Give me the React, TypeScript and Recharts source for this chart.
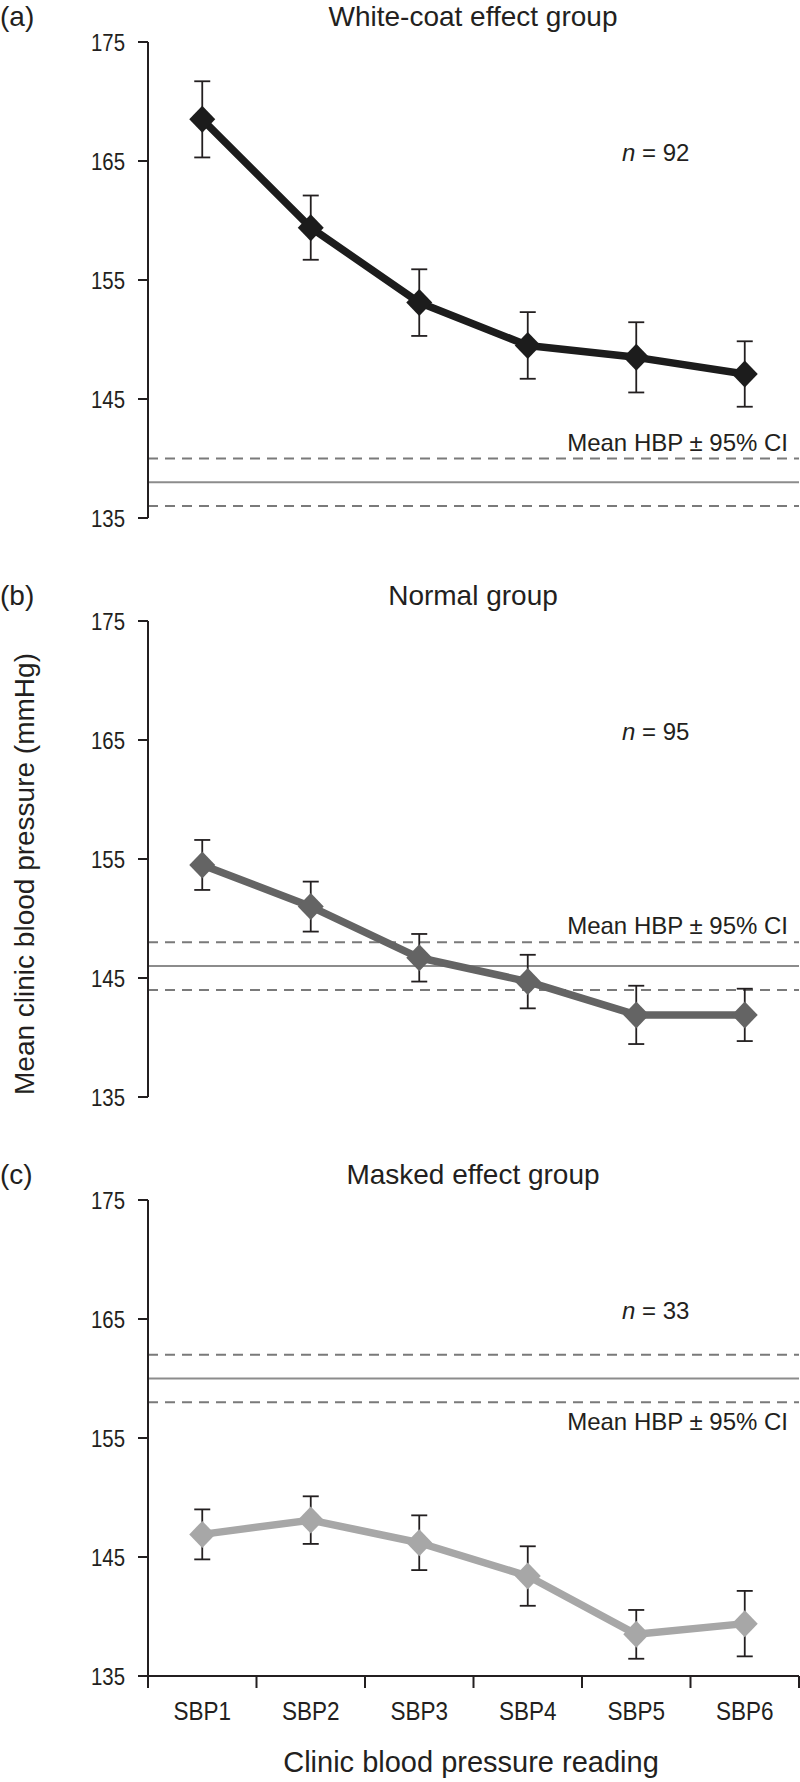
import React from 'react'
import { LineChart, Line, XAxis, YAxis, ErrorBar, ReferenceLine } from 'recharts'

const READINGS = ['SBP1', 'SBP2', 'SBP3', 'SBP4', 'SBP5', 'SBP6']
const Y_TICKS = [135, 145, 155, 165, 175]

// white-coat effect group (n = 92)
const WHITE_COAT_MEAN = [168.5, 159.4, 153.1, 149.5, 148.5, 147.1]
const WHITE_COAT_CI = [3.2, 2.7, 2.8, 2.8, 2.95, 2.75]
const WHITE_COAT_HBP = 138
const WHITE_COAT_HBP_CI = 2

// normal group (n = 95)
const NORMAL_MEAN = [154.5, 151.0, 146.7, 144.7, 141.9, 141.9]
const NORMAL_CI = [2.1, 2.1, 2.0, 2.25, 2.45, 2.2]
const NORMAL_HBP = 146
const NORMAL_HBP_CI = 2

// masked effect group (n = 33)
const MASKED_MEAN = [146.9, 148.1, 146.2, 143.4, 138.5, 139.4]
const MASKED_CI = [2.1, 2.0, 2.3, 2.5, 2.05, 2.75]
const MASKED_HBP = 160
const MASKED_HBP_CI = 2

const FONT = '"Liberation Sans", Arial, sans-serif'
const INK = '#231f20'
const PLOT_TOP = 42
const PLOT_H = 476
const AXIS_X = 148

// category boundaries and centres on a numeric x scale
const X_TICKS = [0.5, ...READINGS.flatMap((_, i) => [i + 1, i + 1.5])]

function YTick({ x, y, payload }: any) {
    return (
        <text
            transform={`translate(${x},${y}) scale(0.85,1)`}
            textAnchor="end"
            dy="0.36em"
            fontSize={24}
            fontFamily={FONT}
            fill={INK}
        >
            {payload.value}
        </text>
    )
}

function XTick({ x, y, payload }: any) {
    const v = payload.value
    if (Number.isInteger(v)) {
        return (
            <text
                transform={`translate(${x},${y + 44}) scale(0.9,1)`}
                textAnchor="middle"
                fontSize={25}
                fontFamily={FONT}
                fill={INK}
            >
                {READINGS[v - 1]}
            </text>
        )
    }
    return <line x1={x} x2={x} y1={y} y2={y + 12} stroke={INK} strokeWidth={2} />
}

function Diamond({ cx, cy, fill }: any) {
    if (cx == null || cy == null) return null
    const w = 13
    const h = 13.5
    return (
        <polygon
            points={`${cx},${cy - h} ${cx + w},${cy} ${cx},${cy + h} ${cx - w},${cy}`}
            fill={fill}
        />
    )
}

function HbpLabel({ viewBox, below }: any) {
    const { x, y, width } = viewBox
    return (
        <text
            x={x + width - 11}
            y={below ? y + 28 : y - 8}
            textAnchor="end"
            fontSize={24}
            fontFamily={FONT}
            fill={INK}
        >
            Mean HBP ± 95% CI
        </text>
    )
}

type PanelProps = {
    top: number
    means: number[]
    cis: number[]
    hbp: number
    hbpCi: number
    color: string
    showX?: boolean
    labelBelow?: boolean
}

function Panel({ top, means, cis, hbp, hbpCi, color, showX, labelBelow }: PanelProps) {
    const rows = READINGS.map((name, i) => ({ x: i + 1, name, mean: means[i], ci: cis[i] }))
    const xHeight = 106
    const height = showX ? PLOT_TOP + PLOT_H + xHeight : PLOT_TOP + PLOT_H + 14

    return (
        <div style={{ position: 'absolute', left: 0, top: top - PLOT_TOP }}>
            <LineChart
                width={800}
                height={height}
                data={rows}
                margin={{ top: PLOT_TOP, right: 1, left: 0, bottom: showX ? 0 : 14 }}
            >
                <XAxis
                    type="number"
                    dataKey="x"
                    domain={[0.5, 6.5]}
                    ticks={X_TICKS}
                    interval={0}
                    hide={!showX}
                    height={xHeight}
                    axisLine={{ stroke: INK, strokeWidth: 2 }}
                    tickLine={false}
                    tickSize={0}
                    tickMargin={0}
                    tick={<XTick />}
                />
                <YAxis
                    type="number"
                    domain={[135, 175]}
                    ticks={Y_TICKS}
                    interval={0}
                    width={AXIS_X}
                    axisLine={{ stroke: INK, strokeWidth: 2 }}
                    tickLine={{ stroke: INK, strokeWidth: 2 }}
                    tickSize={10}
                    tickMargin={13}
                    tick={<YTick />}
                />
                <ReferenceLine y={hbp} stroke="#8c8c8c" strokeWidth={2} />
                <ReferenceLine
                    y={hbp + hbpCi}
                    stroke="#7a7a7a"
                    strokeWidth={2}
                    strokeDasharray="10 7"
                    label={labelBelow ? undefined : (p: any) => <HbpLabel {...p} />}
                />
                <ReferenceLine
                    y={hbp - hbpCi}
                    stroke="#7a7a7a"
                    strokeWidth={2}
                    strokeDasharray="10 7"
                    label={labelBelow ? (p: any) => <HbpLabel {...p} below /> : undefined}
                />
                <Line
                    dataKey="mean"
                    stroke={color}
                    strokeWidth={7.5}
                    strokeLinejoin="round"
                    fill={color}
                    dot={(p: any) => <Diamond key={p.index} {...p} fill={color} />}
                    activeDot={false}
                    isAnimationActive={false}
                >
                    <ErrorBar dataKey="ci" direction="y" width={8} stroke={INK} strokeWidth={1.8} />
                </Line>
            </LineChart>
        </div>
    )
}

const PANEL_TOPS = [42, 621, 1200]

function NLabel({ top, n }: { top: number; n: number }) {
    return (
        <text x={622} y={top + 119} fontSize={24} fontFamily={FONT} fill={INK}>
            <tspan fontStyle="italic">n</tspan> = {n}
        </text>
    )
}

export default function App() {
    return (
        <div style={{ position: 'relative', width: 800, height: 1782, background: '#fff', overflow: 'hidden' }}>
            <style>{'body{margin:0}'}</style>
            <Panel top={PANEL_TOPS[0]} means={WHITE_COAT_MEAN} cis={WHITE_COAT_CI} hbp={WHITE_COAT_HBP} hbpCi={WHITE_COAT_HBP_CI} color="#1c1c1c" />
            <Panel top={PANEL_TOPS[1]} means={NORMAL_MEAN} cis={NORMAL_CI} hbp={NORMAL_HBP} hbpCi={NORMAL_HBP_CI} color="#646464" />
            <Panel top={PANEL_TOPS[2]} means={MASKED_MEAN} cis={MASKED_CI} hbp={MASKED_HBP} hbpCi={MASKED_HBP_CI} color="#a7a7a7" showX labelBelow />

            <svg width={800} height={1782} style={{ position: 'absolute', left: 0, top: 0, pointerEvents: 'none' }}>
                {[['(a)', 'White-coat effect group'], ['(b)', 'Normal group'], ['(c)', 'Masked effect group']].map(([tag, title], i) => (
                    <g key={tag}>
                        <text x={0} y={PANEL_TOPS[i] - 16} fontSize={28} fontFamily={FONT} fill={INK}>{tag}</text>
                        <text x={473} y={PANEL_TOPS[i] - 16} textAnchor="middle" fontSize={28} fontFamily={FONT} fill={INK}>{title}</text>
                    </g>
                ))}
                <NLabel top={PANEL_TOPS[0]} n={92} />
                <NLabel top={PANEL_TOPS[1]} n={95} />
                <NLabel top={PANEL_TOPS[2]} n={33} />
                <text
                    transform="translate(34,874) rotate(-90)"
                    textAnchor="middle"
                    fontSize={28}
                    fontFamily={FONT}
                    fill={INK}
                >
                    Mean clinic blood pressure (mmHg)
                </text>
                <text x={471} y={1772} textAnchor="middle" fontSize={29} fontFamily={FONT} fill={INK}>
                    Clinic blood pressure reading
                </text>
            </svg>
        </div>
    )
}
